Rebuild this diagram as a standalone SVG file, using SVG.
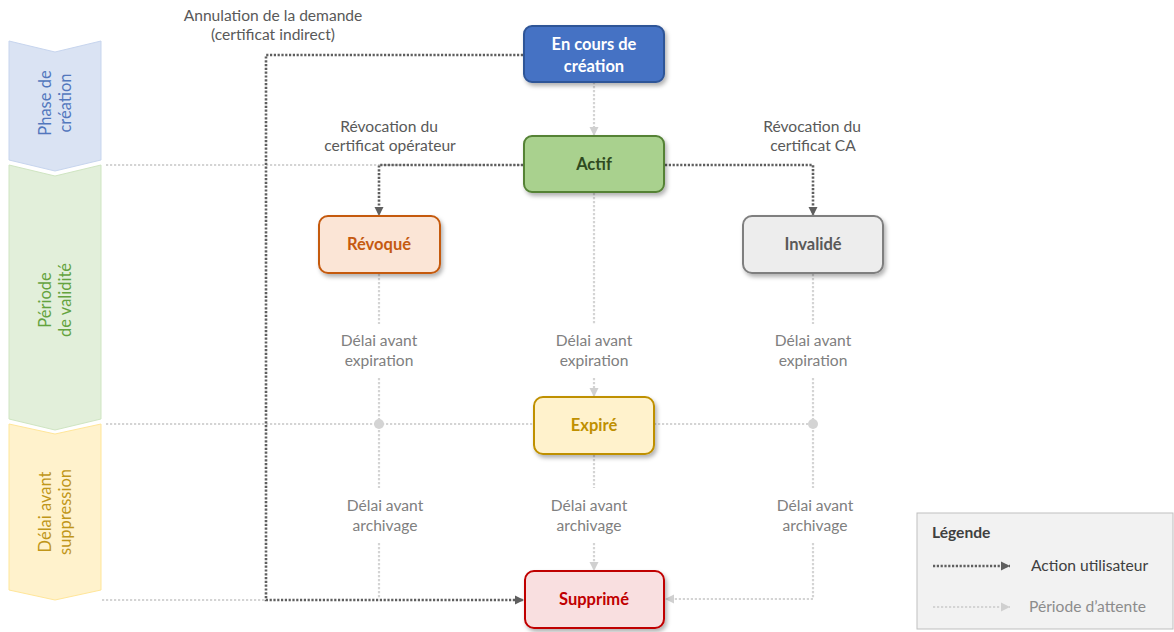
<svg xmlns="http://www.w3.org/2000/svg" width="1174" height="632" viewBox="0 0 1174 632">
  <style>
    .lbl { font-family: Lato, "Liberation Sans", sans-serif; font-size: 15.6px; fill: #595959; text-anchor: middle; }
    .wait { font-family: Lato, "Liberation Sans", sans-serif; font-size: 15.6px; fill: #808080; text-anchor: middle; }
    .node-t { font-family: Lato, "Liberation Sans", sans-serif; font-size: 16.5px; font-weight: bold; text-anchor: middle; }
    .band-t { font-family: Lato, "Liberation Sans", sans-serif; font-size: 16.5px; text-anchor: middle; }
    .leg-t { font-family: Lato, "Liberation Sans", sans-serif; font-size: 15.6px; }
    .act { fill: none; stroke: #5f5f5f; stroke-width: 2.6; stroke-dasharray: 2.2 1.6; }
    .idle { fill: none; stroke: #d4d4d4; stroke-width: 2.2; stroke-dasharray: 2.2 1.8; }
    .box { stroke-width: 2; filter: url(#shadow); }
  </style>
  <defs>
    <filter id="shadow" x="-20%" y="-20%" width="150%" height="160%">
      <feDropShadow dx="2" dy="3" stdDeviation="2" flood-color="#000" flood-opacity="0.3"/>
    </filter>
    <marker id="arrDark" markerUnits="userSpaceOnUse" markerWidth="10" markerHeight="10" refX="9" refY="5" orient="auto">
      <path d="M0,0.5 L9,5 L0,9.5 Z" fill="#5f5f5f"/>
    </marker>
    <marker id="arrLight" markerUnits="userSpaceOnUse" markerWidth="10" markerHeight="10" refX="9" refY="5" orient="auto">
      <path d="M0,0.5 L9,5 L0,9.5 Z" fill="#d0d0d0"/>
    </marker>
  </defs>

  <rect width="1174" height="632" fill="#ffffff"/>

  <!-- lifecycle phase bands -->
  <g id="band-creation">
    <path d="M9,41 L55,52 L101,41 L101,160 L55,171 L9,160 Z" fill="#dae3f3" stroke="#c7d5ee" stroke-width="1"/>
    <text class="band-t" fill="#5277bd" transform="translate(55,103) rotate(-90)"><tspan x="0" y="-4">Phase de</tspan><tspan x="0" y="16">création</tspan></text>
  </g>
  <g id="band-validite">
    <path d="M9,165 L55,176 L101,165 L101,419 L55,430 L9,419 Z" fill="#e2efda" stroke="#cfe5c2" stroke-width="1"/>
    <text class="band-t" fill="#64a33e" transform="translate(55,300) rotate(-90)"><tspan x="0" y="-4">Période</tspan><tspan x="0" y="16">de validité</tspan></text>
  </g>
  <g id="band-suppression">
    <path d="M9,424 L55,434 L101,424 L101,590 L55,600 L9,590 Z" fill="#fff2cc" stroke="#ffe699" stroke-width="1"/>
    <text class="band-t" fill="#c0961a" transform="translate(55,512) rotate(-90)"><tspan x="0" y="-4">Délai avant</tspan><tspan x="0" y="16">suppression</tspan></text>
  </g>

  <!-- connectors -->
  <g id="connectors">
    <!-- phase boundaries -->
    <path class="idle" d="M106,165 H524"/>
    <path class="idle" d="M106,424 H534"/>
    <path class="idle" d="M654,424 H813"/>
    <path class="idle" d="M102,600 H266"/>

    <!-- waiting periods -->
    <path class="idle" d="M594,82 V136" marker-end="url(#arrLight)"/>
    <path class="idle" d="M594,193 V325"/>
    <path class="idle" d="M594,378 V397" marker-end="url(#arrLight)"/>
    <path class="idle" d="M594,455 V488"/>
    <path class="idle" d="M594,543 V571" marker-end="url(#arrLight)"/>

    <path class="idle" d="M379,274 V324"/>
    <path class="idle" d="M379,378 V488"/>
    <path class="idle" d="M379,543 V599"/>

    <path class="idle" d="M813,274 V324"/>
    <path class="idle" d="M813,378 V488"/>
    <path class="idle" d="M813,543 V599 H665" marker-end="url(#arrLight)"/>

    <circle cx="379" cy="424" r="5" fill="#d4d4d4"/>
    <circle cx="813" cy="424" r="5" fill="#d4d4d4"/>

    <!-- user actions -->
    <path class="act" d="M523,55 H266 V600 H524" marker-end="url(#arrDark)"/>
    <path class="act" d="M523,165 H379 V216" marker-end="url(#arrDark)"/>
    <path class="act" d="M665,165 H813 V216" marker-end="url(#arrDark)"/>

    <!-- connector labels -->
    <text class="lbl" x="273" y="21">Annulation de la demande</text>
    <text class="lbl" x="273" y="40">(certificat indirect)</text>
    <text class="lbl" x="389" y="132">Révocation du</text>
    <text class="lbl" x="390" y="151">certificat opérateur</text>
    <text class="lbl" x="812" y="132">Révocation du</text>
    <text class="lbl" x="813" y="151">certificat CA</text>

    <text class="wait" x="379" y="346">Délai avant</text>
    <text class="wait" x="379" y="366">expiration</text>
    <text class="wait" x="594" y="346">Délai avant</text>
    <text class="wait" x="594" y="366">expiration</text>
    <text class="wait" x="813" y="346">Délai avant</text>
    <text class="wait" x="813" y="366">expiration</text>

    <text class="wait" x="385" y="511">Délai avant</text>
    <text class="wait" x="385" y="531">archivage</text>
    <text class="wait" x="589" y="511">Délai avant</text>
    <text class="wait" x="589" y="531">archivage</text>
    <text class="wait" x="815" y="511">Délai avant</text>
    <text class="wait" x="815" y="531">archivage</text>
  </g>

  <!-- states -->
  <g id="node-en-cours">
    <rect class="box" x="524" y="26" width="140" height="56" rx="8" fill="#4472c4" stroke="#2f5597"/>
    <text class="node-t" fill="#ffffff" x="594" y="50">En cours de</text>
    <text class="node-t" fill="#ffffff" x="594" y="72">création</text>
  </g>
  <g id="node-actif">
    <rect class="box" x="524" y="136" width="140" height="56" rx="8" fill="#a9d18e" stroke="#548235"/>
    <text class="node-t" fill="#2f4a1f" x="594" y="170">Actif</text>
  </g>
  <g id="node-revoque">
    <rect class="box" x="319" y="216" width="121" height="57" rx="9" fill="#fbe5d6" stroke="#c55a11"/>
    <text class="node-t" fill="#c55a11" x="379" y="250">Révoqué</text>
  </g>
  <g id="node-invalide">
    <rect class="box" x="743" y="216" width="140" height="57" rx="9" fill="#ededed" stroke="#7f7f7f"/>
    <text class="node-t" fill="#595959" x="813" y="250">Invalidé</text>
  </g>
  <g id="node-expire">
    <rect class="box" x="534" y="397" width="120" height="57" rx="9" fill="#fff2cc" stroke="#bf9000"/>
    <text class="node-t" fill="#bf9000" x="594" y="431">Expiré</text>
  </g>
  <g id="node-supprime">
    <rect class="box" x="525" y="571" width="139" height="57" rx="9" fill="#f9dfe0" stroke="#c00000"/>
    <text class="node-t" fill="#c00000" x="594" y="605">Supprimé</text>
  </g>

  <!-- legend -->
  <g id="legend">
    <rect x="917" y="513" width="256" height="116" fill="#f2f2f2" stroke="#bfbfbf" stroke-width="1"/>
    <text class="leg-t" x="932" y="538" font-size="14.5px" font-weight="bold" fill="#404040">Légende</text>
    <path class="act" d="M933,566 H1010" marker-end="url(#arrDark)"/>
    <text class="leg-t" x="1031" y="571" fill="#404040">Action utilisateur</text>
    <path class="idle" d="M933,607 H1010" marker-end="url(#arrLight)"/>
    <text class="leg-t" x="1029" y="612" fill="#8c8c8c">Période d’attente</text>
  </g>
</svg>
